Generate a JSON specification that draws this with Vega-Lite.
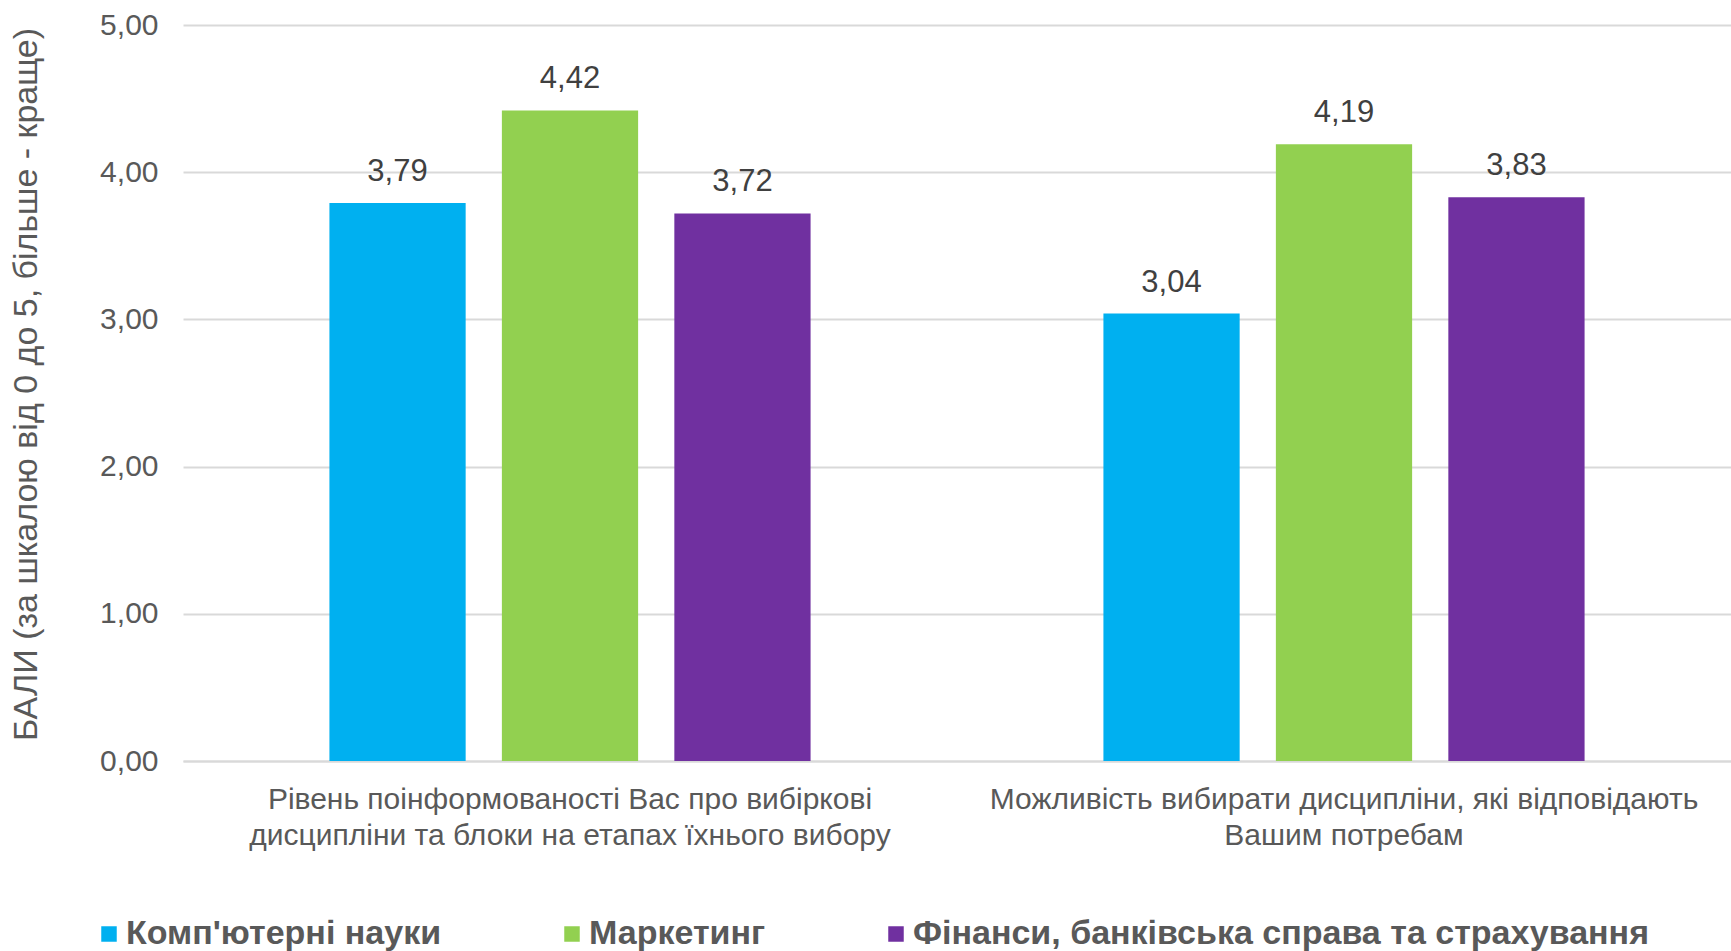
{
  "$schema": "https://vega.github.io/schema/vega-lite/v6.json",
  "width": 1548,
  "height": 736,
  "autosize": {"type": "none"},
  "padding": {"left": 183, "top": 25, "right": 0, "bottom": 190},
  "background": "white",
  "config": {
    "view": {"stroke": null},
    "font": "Liberation Sans",
    "locale": {"number": {"decimal": ",", "thousands": " ", "grouping": [3], "currency": ["", ""]}}
  },
  "data": {
    "values": [
      {"question": "Рівень поінформованості Вас про вибіркові дисципліни та блоки на етапах їхнього вибору", "program": "Комп'ютерні науки", "score": 3.79},
      {"question": "Рівень поінформованості Вас про вибіркові дисципліни та блоки на етапах їхнього вибору", "program": "Маркетинг", "score": 4.42},
      {"question": "Рівень поінформованості Вас про вибіркові дисципліни та блоки на етапах їхнього вибору", "program": "Фінанси, банківська справа та страхування", "score": 3.72},
      {"question": "Можливість вибирати дисципліни, які відповідають Вашим потребам", "program": "Комп'ютерні науки", "score": 3.04},
      {"question": "Можливість вибирати дисципліни, які відповідають Вашим потребам", "program": "Маркетинг", "score": 4.19},
      {"question": "Можливість вибирати дисципліни, які відповідають Вашим потребам", "program": "Фінанси, банківська справа та страхування", "score": 3.83}
    ]
  },
  "encoding": {
    "x": {
      "field": "question",
      "type": "nominal",
      "sort": null,
      "scale": {"paddingInner": 0, "paddingOuter": 0},
      "axis": {
        "title": null,
        "labelAngle": 0,
        "ticks": false,
        "domain": true,
        "domainColor": "#d9d9d9",
        "domainWidth": 2,
        "labelFontSize": 30,
        "labelColor": "#595959",
        "labelPadding": 23,
        "labelLineHeight": 36,
        "labelLimit": 0,
        "labelExpr": "indexof(datum.value, 'Рівень') == 0 ? ['Рівень поінформованості Вас про вибіркові', 'дисципліни та блоки на етапах їхнього вибору'] : ['Можливість вибирати дисципліни, які відповідають', 'Вашим потребам']"
      }
    },
    "xOffset": {
      "field": "program",
      "type": "nominal",
      "sort": null,
      "scale": {"paddingInner": 0.21, "paddingOuter": 0.849}
    },
    "y": {
      "field": "score",
      "type": "quantitative",
      "scale": {"domain": [0, 5]},
      "axis": {
        "title": "БАЛИ (за шкалою від 0 до 5, більше - краще)",
        "titleFontSize": 34,
        "titleFontWeight": "normal",
        "titleColor": "#595959",
        "titleAngle": -90,
        "titleX": -157,
        "titleY": 359,
        "titleAlign": "center",
        "titleBaseline": "middle",
        "values": [0, 1, 2, 3, 4, 5],
        "format": ".2f",
        "labelFontSize": 30,
        "labelColor": "#595959",
        "labelPadding": 25,
        "ticks": false,
        "domain": false,
        "grid": true,
        "gridColor": "#d9d9d9",
        "gridWidth": 2
      }
    }
  },
  "layer": [
    {
      "mark": {"type": "bar"},
      "encoding": {
        "color": {
          "field": "program",
          "type": "nominal",
          "sort": null,
          "scale": {"range": ["#00b0f0", "#92d050", "#7030a0"]},
          "legend": {
            "title": null,
            "orient": "none",
            "direction": "horizontal",
            "legendX": -91,
            "legendY": 892,
            "symbolType": "square",
            "symbolSize": 240,
            "symbolStrokeWidth": 0,
            "labelFont": "Liberation Sans",
            "labelFontWeight": "bold",
            "labelFontSize": 34,
            "labelColor": "#595959",
            "labelOffset": 0,
            "labelLimit": 0,
            "columnPadding": 113,
            "padding": 0
          }
        }
      }
    },
    {
      "mark": {"type": "text", "baseline": "alphabetic", "dy": -22, "fontSize": 31, "color": "#404040"},
      "encoding": {
        "text": {"field": "score", "type": "quantitative", "format": ".2f"}
      }
    }
  ]
}
